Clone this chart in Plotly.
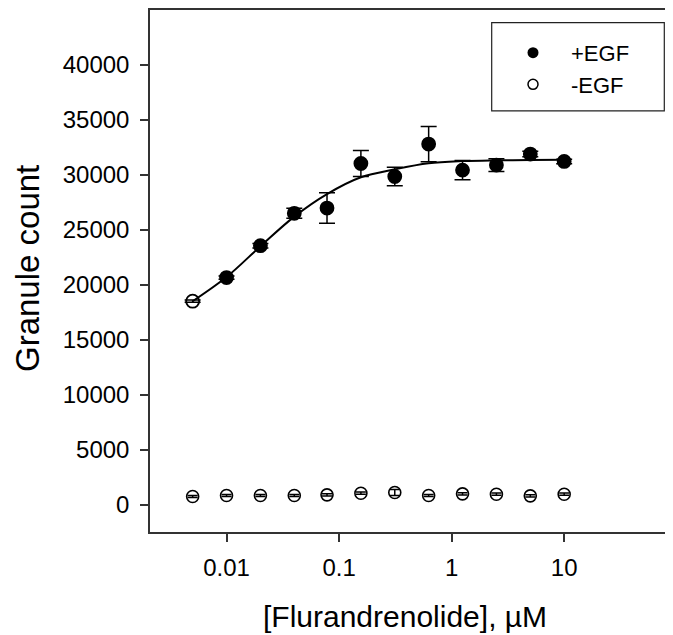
import plotly.graph_objects as go

# Concentrations (µM), 2-fold dilutions
conc = [0.005, 0.01, 0.02, 0.04, 0.078125, 0.15625, 0.3125, 0.625, 1.25, 2.5, 5, 10]

# +EGF granule counts and error
plus_egf = [18500, 20650, 23550, 26500, 26980, 31030, 29850, 32800, 30430, 30890, 31890, 31220]
plus_err = [100, 150, 200, 450, 1380, 1180, 850, 1600, 880, 580, 250, 200]
plus_symbols = ["circle-open"] + ["circle"] * 11

# -EGF granule counts and error
minus_egf = [730, 820, 820, 820, 880, 1030, 1090, 820, 970, 940, 790, 940]
minus_err = [100, 100, 100, 100, 100, 100, 270, 100, 100, 100, 100, 100]

# Fitted curve values at each concentration
fit_y = [18500, 20700, 23500, 26200, 28250, 29780, 30500, 31050, 31250, 31320, 31350, 31380]

x_tickvals = [0.01, 0.1, 1, 10]
x_ticktext = ["0.01", "0.1", "1", "10"]
y_tickvals = [0, 5000, 10000, 15000, 20000, 25000, 30000, 35000, 40000]
y_ticktext = [str(v) for v in y_tickvals]

FONT = "Liberation Sans, Arial, sans-serif"

# page pixel -> paper helpers (page has an 8px body margin)
def px(x):
    return (x - 150) / 523

def py(y):
    return (532 - y) / 524

fig = go.Figure()

fig.add_trace(go.Scatter(
    x=conc, y=fit_y, mode="lines", line=dict(color="black", width=2, shape="spline"),
    showlegend=False, hoverinfo="skip"))

fig.add_trace(go.Scatter(
    x=conc, y=minus_egf, mode="markers", name="-EGF",
    marker=dict(symbol="circle-open", size=12, color="black", line=dict(width=1.6)),
    error_y=dict(type="data", array=minus_err, color="black", thickness=1.5, width=5),
    showlegend=False))

fig.add_trace(go.Scatter(
    x=conc, y=plus_egf, mode="markers", name="+EGF",
    marker=dict(symbol=plus_symbols, size=13, color="black", line=dict(color="black", width=1.8)),
    error_y=dict(type="data", array=plus_err, color="black", thickness=1.5, width=8),
    showlegend=False))

# legend entries
fig.add_trace(go.Scatter(x=[None], y=[None], mode="markers", name="+EGF",
                         marker=dict(symbol="circle", size=11, color="black")))
fig.add_trace(go.Scatter(x=[None], y=[None], mode="markers", name="-EGF",
                         marker=dict(symbol="circle-open", size=10, color="black", line=dict(width=1.5))))

fig.update_layout(
    width=673, height=635,
    margin=dict(l=142, r=8, t=0, b=111),
    paper_bgcolor="white", plot_bgcolor="white",
    font=dict(family=FONT, color="black", size=24),
    legend=dict(x=px(495), y=py(30), xanchor="left", yanchor="top",
                bgcolor="rgba(0,0,0,0)", font=dict(size=22, family=FONT), itemwidth=66,
                tracegroupgap=0),
    shapes=[dict(type="rect", xref="paper", yref="paper",
                 x0=px(491.7), x1=px(664.3), y0=py(109.3), y1=py(20.7),
                 line=dict(color="#222", width=1.2), fillcolor="rgba(0,0,0,0)")],
    annotations=[
        dict(text="Granule count", xref="paper", yref="paper", x=px(27), y=py(268),
             xanchor="center", yanchor="middle", textangle=-90, showarrow=False,
             font=dict(size=33, family=FONT)),
        dict(text="[Flurandrenolide], µM", xref="paper", yref="paper", x=px(405),
             y=py(617), xanchor="center", yanchor="middle", showarrow=False,
             font=dict(size=30, family=FONT)),
    ],
)

fig.update_xaxes(
    type="log", range=[-2.68, 1.967], showline=True, linecolor="#333", linewidth=1.5, mirror=True,
    ticks="outside", ticklen=8, tickwidth=1.5, tickcolor="#333",
    tickvals=x_tickvals, ticktext=x_ticktext, showgrid=False, zeroline=False,
    tickfont=dict(size=24, family=FONT), ticklabelstandoff=5)
fig.update_yaxes(
    range=[-2500, 45000], showline=True, linecolor="#333", linewidth=1.5, mirror=False,
    ticks="outside", ticklen=8, tickwidth=1.5, tickcolor="#333",
    tickvals=y_tickvals, ticktext=y_ticktext, showgrid=False, zeroline=False,
    tickfont=dict(size=24, family=FONT), ticklabelstandoff=6)

fig.write_html("out.html")
